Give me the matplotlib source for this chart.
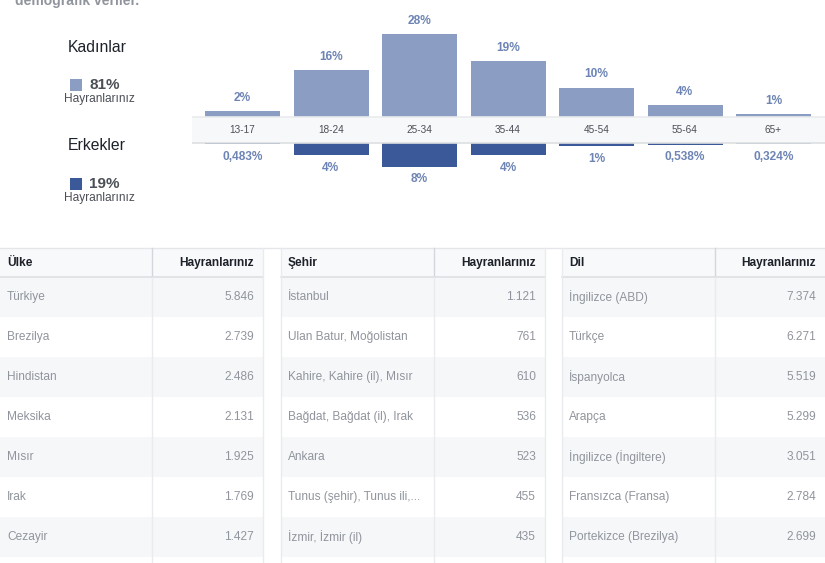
import numpy as np
import matplotlib
matplotlib.use("Agg")
import matplotlib.pyplot as plt
from matplotlib.patches import Rectangle

plt.rcParams['font.family'] = ['Liberation Sans', 'DejaVu Sans']

# age / gender breakdown (percent of fans)
age_groups = ['13-17', '18-24', '25-34', '35-44', '45-54', '55-64', '65+']
women_pct = [2, 16, 28, 19, 10, 4, 1]
men_pct = [0.483, 4, 8, 4, 1, 0.538, 0.324]
gender_labels = ['Kadınlar', 'Erkekler']
gender_share = [81, 19]

# top tables
countries = ['Türkiye', 'Brezilya', 'Hindistan', 'Meksika', 'Mısır', 'Irak', 'Cezayir']
country_fans = [5846, 2739, 2486, 2131, 1925, 1769, 1427]
cities = ['İstanbul', 'Ulan Batur, Moğolistan', 'Kahire, Kahire (il), Mısır',
          'Bağdat, Bağdat (il), Irak', 'Ankara', 'Tunus (şehir), Tunus ili,...',
          'İzmir, İzmir (il)']
city_fans = [1121, 761, 610, 536, 523, 455, 435]
languages = ['İngilizce (ABD)', 'Türkçe', 'İspanyolca', 'Arapça',
             'İngilizce (İngiltere)', 'Fransızca (Fransa)', 'Portekizce (Brezilya)']
language_fans = [7374, 6271, 5519, 5299, 3051, 2784, 2699]

W, H = 825, 563
LIGHT = '#8b9dc3'
DARK = '#3b5998'
LABEL = '#6d84b4'
TXT = '#4b4f56'
GRAY = '#90949c'


def pct_label(v):
    return f"{v:g}%".replace('.', ',')


def thousands(v):
    return f"{v:,}".replace(',', '.')


fig = plt.figure(figsize=(W / 100, H / 100), dpi=100)

# background axes in pixel coordinates
bg = fig.add_axes([0, 0, 1, 1])
bg.set_xlim(0, W)
bg.set_ylim(H, 0)
bg.axis('off')

bg.text(15, 5, 'demografik veriler.', fontsize=10, fontweight='bold',
        color=GRAY, va='baseline', ha='left')

# gender legend
sq_colors = [LIGHT, DARK]
for i, (lab, share) in enumerate(zip(gender_labels, gender_share)):
    y0 = 47 + i * 99
    bg.text(97, y0, lab, fontsize=11.3, color='#1d2129', ha='center', va='center')
    bg.add_patch(Rectangle((70, y0 + 32), 12, 12, facecolor=sq_colors[i],
                           edgecolor='none'))
    bg.text(89, y0 + 38, f"{share}%", fontsize=11, fontweight='bold', color=TXT,
            ha='left', va='center')
    bg.text(99, y0 + 52, 'Hayranlarınız', fontsize=8.6, color=TXT,
            ha='center', va='center')

# age bar chart: pixel 192..825 horizontally, 0..234 vertically
px_per_pct = 2.95
band_top, band_bot = 117, 143
gap = (band_bot - band_top) / px_per_pct
ax_h = 234
ax = fig.add_axes([192 / W, 1 - ax_h / H, (W - 192) / W, ax_h / H])
step = 88.5
x = np.arange(len(age_groups))
ax.set_xlim((192 - 242.5) / step, (W - 242.5) / step)
ax.set_ylim(-(ax_h - band_top) / px_per_pct, band_top / px_per_pct)
ax.axis('off')

bw = 75 / step
ax.bar(x, women_pct, width=bw, bottom=0, color=LIGHT, zorder=1)
men_colors = [DARK] * (len(age_groups) - 1) + [LIGHT]
ax.bar(x, [-m for m in men_pct], width=bw, bottom=-gap, color=men_colors, zorder=1)

ax.axhspan(-gap, 0, facecolor='#f7f8f9', edgecolor='none', zorder=2)
ax.axhline(0, color='#e9ebee', lw=1.2, zorder=3)
ax.axhline(-gap, color='#dddfe2', lw=1.2, zorder=3)

for xi, lab, w, m in zip(x, age_groups, women_pct, men_pct):
    ax.text(xi, -gap / 2, lab, fontsize=7.2, color=TXT, ha='center', va='center',
            zorder=4)
    ax.annotate(pct_label(w), (xi, w), xytext=(0, 9.4), textcoords='offset points',
                ha='center', va='center', fontsize=8.6, fontweight='bold',
                color=LABEL)
    ax.annotate(pct_label(m), (xi, -gap - m), xytext=(0, -9.2),
                textcoords='offset points', ha='center', va='center',
                fontsize=8.6, fontweight='bold', color=LABEL)

# tables
tables = [
    ('Ülke', countries, country_fans, 0, 263, 152),
    ('Şehir', cities, city_fans, 281, 545, 434),
    ('Dil', languages, language_fans, 562, 825, 715),
]
head_top, head_bot = 248, 277
row_h = 40
bg.plot([0, W], [head_top, head_top], color='#e5e6e9', lw=1)
for title, names, vals, x0, x1, xdiv in tables:
    bg.add_patch(Rectangle((x0, head_top), x1 - x0, head_bot - head_top,
                           facecolor='#f8f9fa', edgecolor='none'))
    for r in range(len(names) + 1):
        top = head_bot + r * row_h
        fc = '#f6f7f9' if r % 2 == 0 else 'white'
        bg.add_patch(Rectangle((x0, top), x1 - x0, row_h, facecolor=fc,
                               edgecolor='none'))
    bg.plot([x0, x1], [head_bot, head_bot], color='#dddfe2', lw=1.2)
    bg.plot([xdiv, xdiv], [head_top, head_bot], color='#d3d6db', lw=1)
    bg.plot([xdiv, xdiv], [head_bot, H], color='#e9ebee', lw=1)
    if x0 > 0:
        bg.plot([x0, x0], [head_top, H], color='#e9ebee', lw=1)
    if x1 < W:
        bg.plot([x1, x1], [head_top, H], color='#e9ebee', lw=1)
    bg.text(x0 + 7, 263, title, fontsize=8.6, fontweight='bold', color='#1d2129',
            ha='left', va='center')
    bg.text(x1 - 9, 263, 'Hayranlarınız', fontsize=8.6, fontweight='bold',
            color='#1d2129', ha='right', va='center')
    for r, (nm, v) in enumerate(zip(names, vals)):
        yc = head_bot + r * row_h + 20
        bg.text(x0 + 7, yc, nm, fontsize=8.6, color=GRAY, ha='left', va='center')
        bg.text(x1 - 9, yc, thousands(v), fontsize=8.6, color=GRAY, ha='right',
                va='center')

fig.savefig('out.png', dpi=100)
